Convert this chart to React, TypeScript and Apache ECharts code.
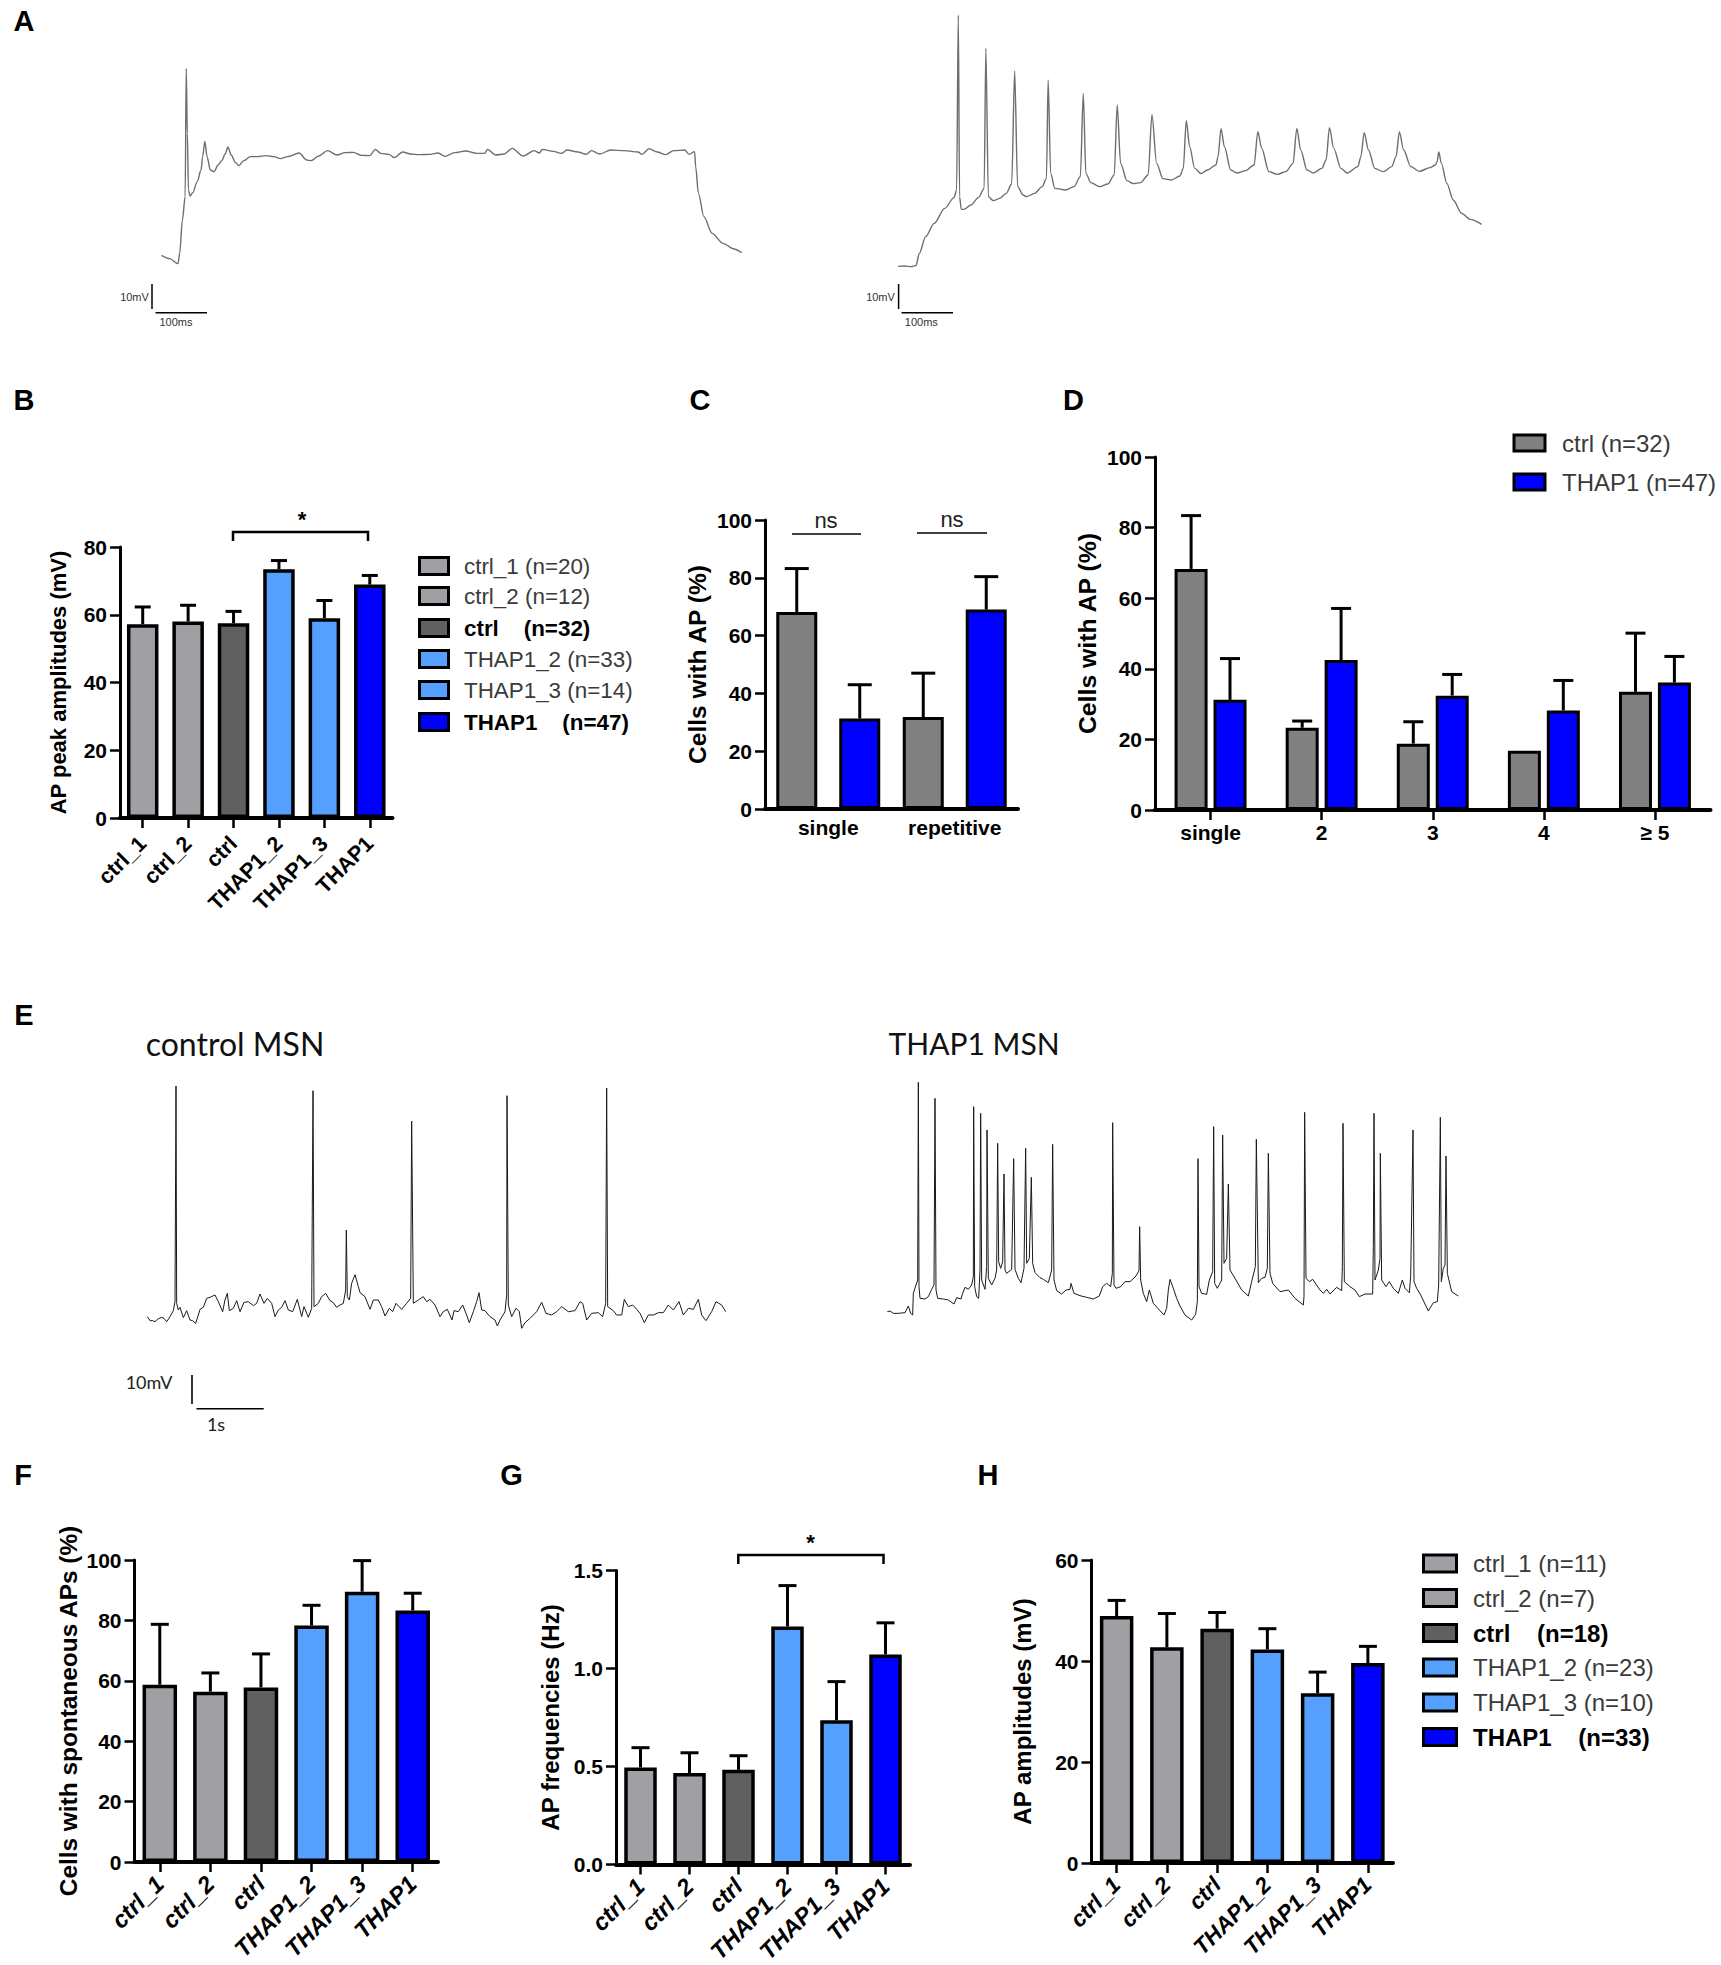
import { useEffect, useRef } from "react";
import * as echarts from "echarts";

const FONT = "'Liberation Sans', Arial, sans-serif";
const CALIBRI_LIKE = "Lato, 'Open Sans', sans-serif";

const GREY = "#a0a0a4";
const DARK = "#606060";
const LIGHT_BLUE = "#559fff";
const BLUE = "#0000ff";
const SIX_COLORS = [GREY, GREY, DARK, LIGHT_BLUE, LIGHT_BLUE, BLUE];
const TWO_GREY = "#808080";

const lineCats = ["ctrl_1", "ctrl_2", "ctrl", "THAP1_2", "THAP1_3", "THAP1"];

// panel B
const bValues = [57.2, 58, 57.5, 73.4, 59, 68.9];
const bTops = [62.3, 62.8, 61, 76, 64.2, 71.6];
const bLegend = ["ctrl_1 (n=20)", "ctrl_2 (n=12)", "ctrl    (n=32)", "THAP1_2 (n=33)", "THAP1_3 (n=14)", "THAP1    (n=47)"];

// panel C
const cCats = ["single", "repetitive"];
const cCtrl = [68.2, 31.8];
const cCtrlTops = [83.2, 47];
const cThap = [31.3, 69];
const cThapTops = [43, 80.4];

// panel D
const dCats = ["single", "2", "3", "4", "≥ 5"];
const dCtrl = [68.3, 23.3, 18.8, 16.8, 33.5];
const dCtrlTops = [83.4, 25.2, 25, null, 50.1];
const dThap = [31.2, 42.5, 32.4, 28.2, 36.1];
const dThapTops = [42.9, 57.1, 38.4, 36.7, 43.5];
const dLegend = ["ctrl (n=32)", "THAP1 (n=47)"];

// panel F
const fValues = [58.7, 56.4, 57.8, 78.3, 89.5, 83.3];
const fTops = [78.7, 62.6, 68.9, 85, 99.8, 89];

// panel G
const gValues = [0.495, 0.467, 0.483, 1.214, 0.736, 1.072];
const gTops = [0.596, 0.57, 0.555, 1.423, 0.933, 1.233];

// panel H
const hValues = [48.9, 42.7, 46.4, 42.3, 33.6, 39.6];
const hTops = [52, 49.4, 49.6, 46.4, 37.8, 42.9];
const hLegend = ["ctrl_1 (n=11)", "ctrl_2 (n=7)", "ctrl    (n=18)", "THAP1_2 (n=23)", "THAP1_3 (n=10)", "THAP1    (n=33)"];

// traces: [time, voltage] in reading units, voltage axis points down
const traceA1 = [[295,766],[310,776],[325,791],[328,760],[333,660],[338,590],[340,205],[342,400],[344,570],[347,588],[352,578],[360,545],[367,510],[370,470],[374,424],[378,470],[384,510],[391,515],[398,495],[405,482],[411,462],[416,441],[422,465],[430,488],[436,497],[445,482],[457,470],[470,470],[485,467],[500,470],[512,476],[525,470],[546,459],[560,480],[568,482],[582,468],[598,452],[615,465],[630,458],[645,457],[660,466],[675,467],[685,448],[695,460],[710,463],[720,473],[735,456],[750,462],[765,464],[785,463],[800,459],[812,469],[830,458],[850,453],[870,460],[885,460],[890,448],[905,465],[920,462],[935,445],[955,468],[975,452],[985,459],[990,448],[1010,454],[1025,460],[1035,450],[1055,456],[1070,463],[1080,452],[1095,462],[1115,450],[1140,452],[1165,456],[1172,463],[1185,446],[1200,456],[1215,464],[1230,452],[1250,450],[1258,463],[1268,455],[1270,500],[1275,580],[1285,650],[1300,700],[1320,730],[1340,747],[1354,758]];
const traceA2 = [[90,799],[105,798],[120,800],[132,797],[140,760],[155,710],[175,670],[200,625],[222,593],[228,570],[232,45],[235,590],[239,628],[245,628],[262,615],[280,592],[293,565],[297,145],[303,590],[315,602],[330,595],[345,580],[358,552],[365,213],[372,560],[385,585],[393,590],[412,580],[430,560],[440,535],[444,240],[450,520],[460,565],[485,570],[505,560],[520,530],[527,280],[533,520],[545,548],[565,560],[585,552],[600,525],[607,315],[615,490],[630,542],[645,551],[662,548],[680,525],[689,344],[700,490],[715,536],[735,540],[755,528],[763,505],[770,362],[778,440],[790,505],[805,521],[820,510],[840,495],[845,470],[852,386],[860,440],[875,510],[890,519],[910,512],[930,495],[939,395],[948,445],[965,515],[985,523],[1005,515],[1022,490],[1031,385],[1040,450],[1055,510],[1070,519],[1090,505],[1100,480],[1108,383],[1118,445],[1135,505],[1150,519],[1175,500],[1182,470],[1190,398],[1200,450],[1215,505],[1235,515],[1255,500],[1265,470],[1273,396],[1283,450],[1300,500],[1320,514],[1345,503],[1358,495],[1362,485],[1366,456],[1372,490],[1385,550],[1400,600],[1420,640],[1440,658],[1467,673]];
const traceE1 = [[22,140],[30,152],[38,152],[45,155],[55,146],[65,142],[72,145],[80,155],[90,140],[100,122],[105,95],[108,-552],[110,100],[115,120],[120,112],[130,143],[140,122],[150,150],[158,152],[167,160],[175,135],[180,118],[190,112],[200,85],[210,82],[225,75],[235,95],[248,125],[255,90],[262,70],[268,122],[280,115],[290,92],[300,125],[312,97],[325,95],[340,107],[350,100],[360,72],[372,100],[382,85],[395,100],[405,140],[415,120],[425,112],[435,92],[445,120],[458,125],[472,88],[485,140],[492,110],[505,142],[515,115],[519,-538],[522,110],[535,100],[545,80],[557,70],[570,92],[580,98],[590,112],[600,105],[610,100],[617,60],[619,-120],[622,80],[628,90],[635,40],[645,14],[655,50],[660,68],[675,80],[690,118],[700,90],[715,90],[725,110],[735,138],[748,115],[758,125],[768,100],[785,118],[800,100],[812,85],[815,-447],[820,100],[835,90],[850,80],[860,95],[870,88],[885,105],[900,140],[910,125],[922,118],[936,150],[942,122],[955,125],[968,105],[978,130],[988,158],[1000,125],[1010,95],[1017,68],[1025,120],[1035,122],[1050,140],[1065,150],[1072,168],[1080,150],[1095,125],[1100,75],[1101,-523],[1105,105],[1115,140],[1128,115],[1138,125],[1145,175],[1155,158],[1170,145],[1190,125],[1205,97],[1218,130],[1235,135],[1250,125],[1265,110],[1285,125],[1305,122],[1320,95],[1328,100],[1340,150],[1355,130],[1375,128],[1388,140],[1397,100],[1400,-546],[1403,110],[1420,122],[1430,135],[1445,135],[1453,88],[1465,110],[1478,105],[1490,118],[1500,130],[1513,158],[1525,135],[1540,135],[1555,128],[1570,128],[1585,105],[1600,120],[1617,95],[1630,135],[1645,115],[1660,118],[1675,88],[1685,135],[1698,152],[1715,125],[1728,95],[1745,105],[1757,125]];
const traceE2 = [[22,245],[30,243],[40,250],[55,250],[75,248],[85,228],[92,250],[98,255],[100,190],[108,165],[113,150],[115,-443],[117,170],[120,205],[135,207],[145,200],[155,178],[162,165],[165,-395],[168,180],[173,205],[190,207],[205,210],[222,222],[230,203],[243,207],[248,190],[255,172],[265,178],[275,165],[280,140],[281,-370],[284,170],[290,200],[296,205],[300,120],[302,-350],[305,150],[315,178],[320,110],[321,-300],[325,145],[335,165],[345,145],[350,120],[353,-260],[356,95],[362,115],[368,95],[372,-168],[375,120],[380,130],[395,118],[401,-214],[405,118],[415,145],[423,158],[432,115],[437,-245],[440,100],[448,85],[454,-158],[458,100],[465,128],[480,143],[490,148],[505,158],[515,120],[518,-257],[522,150],[530,182],[545,192],[558,180],[570,178],[573,160],[582,190],[600,197],[620,202],[640,207],[658,198],[668,170],[680,160],[692,170],[697,130],[698,-322],[702,165],[708,175],[722,170],[735,155],[750,155],[768,138],[777,122],[779,-10],[782,150],[790,190],[800,215],[808,180],[820,220],[838,240],[852,255],[860,235],[865,180],[870,148],[880,175],[890,205],[900,228],[915,255],[935,270],[947,253],[952,215],[954,-214],[957,170],[965,190],[980,193],[988,150],[998,125],[1001,-310],[1004,160],[1012,175],[1025,150],[1028,-285],[1032,100],[1040,85],[1045,-138],[1050,120],[1065,145],[1085,180],[1105,198],[1115,155],[1126,110],[1129,-272],[1135,158],[1145,145],[1155,142],[1162,115],[1165,-230],[1170,130],[1178,160],[1200,185],[1225,180],[1245,205],[1270,225],[1272,200],[1274,-353],[1278,145],[1288,155],[1298,148],[1320,180],[1330,190],[1340,178],[1350,192],[1370,172],[1385,182],[1387,110],[1389,-320],[1393,155],[1410,170],[1425,180],[1438,200],[1455,192],[1478,192],[1480,50],[1482,-350],[1485,150],[1495,120],[1500,85],[1501,-230],[1505,150],[1518,170],[1528,155],[1540,175],[1555,190],[1567,150],[1575,175],[1588,188],[1592,140],[1599,-300],[1602,155],[1610,175],[1622,195],[1645,243],[1660,218],[1672,215],[1676,165],[1681,-338],[1684,155],[1690,115],[1695,105],[1698,-222],[1702,130],[1715,185],[1735,198]];

type Panel = {
    left: number;
    right: number;
    top: number;
    bottom: number;
    max: number;
    interval: number;
    cats: string[];
    name: string;
    nameGap: number;
    nameSize: number;
    labelSize: number;
    labelMargin: number;
    rotate?: number;
    italic?: boolean;
    ticks?: boolean;
    decimals?: number;
};

const panels: Panel[] = [
    { left: 120, right: 392.5, top: 547, bottom: 818, max: 80, interval: 20, cats: lineCats, name: "AP peak amplitudes (mV)", nameGap: 51, nameSize: 22, labelSize: 21.5, labelMargin: 22, rotate: 45 },
    { left: 765, right: 1018, top: 520, bottom: 809, max: 100, interval: 20, cats: cCats, name: "Cells with AP (%)", nameGap: 55, nameSize: 24.5, labelSize: 21, labelMargin: 8, ticks: false },
    { left: 1155, right: 1710.5, top: 457, bottom: 810, max: 100, interval: 20, cats: dCats, name: "Cells with AP (%)", nameGap: 55, nameSize: 24.8, labelSize: 21, labelMargin: 12 },
    { left: 134.5, right: 438, top: 1560, bottom: 1862, max: 100, interval: 20, cats: lineCats, name: "Cells with spontaneous APs (%)", nameGap: 54, nameSize: 24.4, labelSize: 23.5, labelMargin: 18, rotate: 45, italic: true },
    { left: 616, right: 910, top: 1570.5, bottom: 1864.5, max: 1.5, interval: 0.5, cats: lineCats, name: "AP frequencies (Hz)", nameGap: 54, nameSize: 24, labelSize: 23.5, labelMargin: 18, rotate: 45, italic: true, decimals: 1 },
    { left: 1091.5, right: 1393, top: 1560, bottom: 1863, max: 60, interval: 20, cats: lineCats, name: "AP amplitudes (mV)", nameGap: 57, nameSize: 24, labelSize: 22.5, labelMargin: 18, rotate: 45, italic: true },
];

const traceBoxes = [
    { left: 0, top: 0, width: 860, height: 360, xMin: 0, xMax: 1570, yMin: 0, yMax: 1080, data: traceA1, color: "#6e6e6e", lineWidth: 1.4, smooth: 0.3 },
    { left: 860, top: 0, width: 661, height: 360, xMin: 0, xMax: 1560, yMin: 0, yMax: 1080, data: traceA2, color: "#6e6e6e", lineWidth: 1.4, smooth: 0.3 },
    { left: 140, top: 1000, width: 600, height: 340, xMin: 0, xMax: 1800, yMin: -810, yMax: 210, data: traceE1, color: "#1a1a1a", lineWidth: 1, smooth: false },
    { left: 880, top: 1000, width: 600, height: 340, xMin: 0, xMax: 1800, yMin: -690, yMax: 330, data: traceE2, color: "#1a1a1a", lineWidth: 1, smooth: false },
];

const barSeries = (grid: number, values: number[], width: number, color: any, gap?: string, border = 3) => ({
    type: "bar",
    xAxisIndex: grid,
    yAxisIndex: grid,
    data: values,
    barWidth: width,
    barGap: gap,
    z: 3,
    itemStyle: { color, borderColor: "#000", borderWidth: border },
});

// upper-only error bars, the library has no series for them
const errorSeries = (grid: number, values: number[], tops: (number | null)[], cap: number, offset = 0) => ({
    type: "custom",
    xAxisIndex: grid,
    yAxisIndex: grid,
    z: 2,
    data: values.map((v, i) => [i, v, tops[i]]),
    encode: { x: 0, y: [1, 2] },
    renderItem: (_: any, api: any) => {
        const top = api.value(2);
        if (Number.isNaN(top) || top == null) return null;
        const a = api.coord([api.value(0), api.value(1)]);
        const b = api.coord([api.value(0), top]);
        const x = a[0] + offset;
        const style = { stroke: "#000", lineWidth: 3 };
        return {
            type: "group",
            children: [
                { type: "line", shape: { x1: x, y1: a[1], x2: x, y2: b[1] }, style },
                { type: "line", shape: { x1: x - cap / 2, y1: b[1], x2: x + cap / 2, y2: b[1] }, style },
            ],
        };
    },
});

const sixSeries = (grid: number, values: number[], tops: number[], width: number, cap: number) => [
    errorSeries(grid, values, tops, cap),
    barSeries(grid, values, width, (p: any) => SIX_COLORS[p.dataIndex], undefined, 3.5),
];

const text = (str: string, x: number, y: number, size: number, opts: any = {}) => ({
    type: "text",
    z: 10,
    style: {
        text: str,
        x,
        y,
        fill: opts.fill ?? "#000",
        font: `${opts.bold ? "bold " : ""}${size}px ${opts.family ?? FONT}`,
        align: opts.align ?? "center",
        verticalAlign: "middle",
    },
});

const line = (x1: number, y1: number, x2: number, y2: number, lineWidth: number, stroke = "#000") => ({
    type: "line",
    z: 10,
    shape: { x1, y1, x2, y2 },
    style: { stroke, lineWidth },
});

const bracket = (x1: number, x2: number, top: number, drop: number) => ({
    type: "polyline",
    z: 10,
    shape: { points: [[x1, drop], [x1, top], [x2, top], [x2, drop]] },
    style: { stroke: "#000", lineWidth: 2.5, fill: "none" },
});

const legend = (names: string[], colors: string[], xs: number[], ys: number[], w: number, h: number, size: number, boldAll?: boolean) =>
    names.flatMap((name, i) => [
        {
            type: "rect",
            z: 10,
            shape: { x: xs[0], y: ys[i] - h / 2, width: w, height: h },
            style: { fill: colors[i], stroke: "#000", lineWidth: 3 },
        },
        text(name, xs[1], ys[i], size, {
            align: "left",
            bold: boldAll ?? /\s{2,}/.test(name),
            fill: /\s{2,}/.test(name) ? "#000" : "#3a3a3a",
        }),
    ]);

export default function App() {
    const chartRef = useRef<HTMLDivElement | null>(null);

    useEffect(() => {
        if (!chartRef.current) return;
        const chart = echarts.init(chartRef.current, undefined, { renderer: "svg" });

        // outerBoundsMode none: the slanted labels at the page bottom must not shrink the grids
        const grids = [
            ...panels.map((p) => ({ left: p.left, top: p.top, width: p.right - p.left, height: p.bottom - p.top, outerBoundsMode: "none" })),
            ...traceBoxes.map((t) => ({ left: t.left, top: t.top, width: t.width, height: t.height, outerBoundsMode: "none" })),
        ];

        const xAxes = [
            ...panels.map((p, i) => ({
                type: "category",
                gridIndex: i,
                data: p.cats,
                axisLine: { show: true, lineStyle: { color: "#000", width: 4 } },
                axisTick: { show: p.ticks !== false, alignWithLabel: true, length: 10, lineStyle: { color: "#000", width: 2.5 } },
                axisLabel: {
                    interval: 0,
                    rotate: p.rotate ?? 0,
                    margin: p.labelMargin,
                    color: "#000",
                    fontFamily: FONT,
                    fontWeight: "bold",
                    fontStyle: p.italic ? "italic" : "normal",
                    fontSize: p.labelSize,
                },
            })),
            ...traceBoxes.map((t, i) => ({ type: "value", gridIndex: panels.length + i, min: t.xMin, max: t.xMax, show: false })),
        ];

        const yAxes = [
            ...panels.map((p, i) => ({
                type: "value",
                gridIndex: i,
                min: 0,
                max: p.max,
                interval: p.interval,
                name: p.name,
                nameLocation: "middle",
                nameGap: p.nameGap,
                nameRotate: 90,
                nameTextStyle: { color: "#000", fontFamily: FONT, fontWeight: "bold", fontSize: p.nameSize },
                splitLine: { show: false },
                axisLine: { show: true, lineStyle: { color: "#000", width: 3 } },
                axisTick: { show: true, length: 10, lineStyle: { color: "#000", width: 2.5 } },
                axisLabel: {
                    margin: 13,
                    color: "#000",
                    fontFamily: FONT,
                    fontWeight: "bold",
                    fontSize: 21,
                    formatter: (v: number) => (p.decimals ? v.toFixed(p.decimals) : String(v)),
                },
            })),
            ...traceBoxes.map((t, i) => ({ type: "value", gridIndex: panels.length + i, min: t.yMin, max: t.yMax, inverse: true, show: false })),
        ];

        const series = [
            ...sixSeries(0, bValues, bTops, 31.5, 16),
            errorSeries(1, cCtrl, cCtrlTops, 24, -31.5),
            errorSeries(1, cThap, cThapTops, 24, 31.5),
            barSeries(1, cCtrl, 41, TWO_GREY, "53.6%"),
            barSeries(1, cThap, 41, BLUE, "53.6%"),
            errorSeries(2, dCtrl, dCtrlTops, 20, -19.45),
            errorSeries(2, dThap, dThapTops, 20, 19.45),
            barSeries(2, dCtrl, 33, TWO_GREY, "18%"),
            barSeries(2, dThap, 33, BLUE, "18%"),
            ...sixSeries(3, fValues, fTops, 34.5, 18),
            ...sixSeries(4, gValues, gTops, 32.5, 18),
            ...sixSeries(5, hValues, hTops, 33.5, 18),
            ...traceBoxes.map((t, i) => ({
                type: "line",
                xAxisIndex: panels.length + i,
                yAxisIndex: panels.length + i,
                data: t.data,
                showSymbol: false,
                symbol: "none",
                smooth: t.smooth,
                smoothMonotone: "x",
                lineStyle: { color: t.color, width: t.lineWidth },
            })),
        ];

        const graphic = [
            // panel letters
            text("A", 24, 21, 29, { bold: true }),
            text("B", 24, 400, 29, { bold: true }),
            text("C", 700, 400, 29, { bold: true }),
            text("D", 1073.5, 400, 29, { bold: true }),
            text("E", 24, 1015, 29, { bold: true }),
            text("F", 23, 1475, 29, { bold: true }),
            text("G", 511.5, 1475, 29, { bold: true }),
            text("H", 988, 1475, 29, { bold: true }),
            // scale bars in A
            line(152, 284, 152, 309, 1.5),
            line(155.5, 312.7, 207, 312.7, 1.5),
            text("10mV", 134.5, 297, 11, { fill: "#333" }),
            text("100ms", 176, 322, 11, { fill: "#333" }),
            line(898.6, 284, 898.6, 309, 1.5),
            line(901.5, 312.7, 953, 312.7, 1.5),
            text("10mV", 880.5, 297, 11, { fill: "#333" }),
            text("100ms", 921.3, 322, 11, { fill: "#333" }),
            // titles and scale bars in E
            text("control MSN", 145.7, 1043, 32, { align: "left", family: CALIBRI_LIKE, fill: "#111" }),
            text("THAP1 MSN", 888.6, 1043, 30, { align: "left", family: CALIBRI_LIKE, fill: "#111" }),
            line(192, 1375, 192, 1404, 1.6),
            line(196.4, 1408.7, 263.7, 1408.7, 1.6),
            text("10mV", 149, 1382, 18, { family: CALIBRI_LIKE, fill: "#222" }),
            text("1s", 216, 1424, 18, { family: CALIBRI_LIKE, fill: "#222" }),
            // significance marks
            bracket(233, 368, 532, 541),
            text("*", 302, 519, 22, { bold: true }),
            text("ns", 826, 520, 22, { fill: "#222" }),
            line(792, 534, 861, 534, 1.5),
            text("ns", 952, 519, 22, { fill: "#222" }),
            line(917, 533, 987, 533, 1.5),
            bracket(738.3, 883.5, 1555, 1564),
            text("*", 810.5, 1542, 22, { bold: true }),
            // legends
            ...legend(bLegend, SIX_COLORS, [419.5, 464], [566, 596, 628, 659, 690, 722], 29, 17, 22.4),
            ...legend(dLegend, [TWO_GREY, BLUE], [1514, 1562], [443, 482], 31, 16, 24, false),
            ...legend(hLegend, SIX_COLORS, [1423.5, 1473], [1563.5, 1598, 1633, 1667.5, 1702.4, 1737], 33, 17, 24),
        ];

        chart.setOption({
            animation: false,
            backgroundColor: "#fff",
            grid: grids,
            xAxis: xAxes,
            yAxis: yAxes,
            series,
            graphic,
        });

        return () => {
            chart.dispose();
        };
    }, []);

    return <div ref={chartRef} style={{ position: "absolute", left: 0, top: 0, width: 1721, height: 1965 }} />;
}
